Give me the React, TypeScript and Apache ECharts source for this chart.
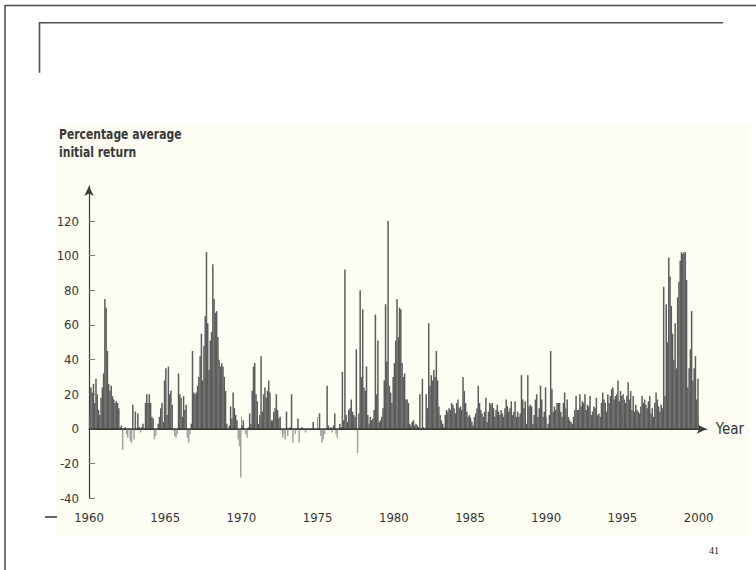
import React, { useEffect, useRef } from "react";
import * as echarts from "echarts";

// Monthly percentage average initial returns, one row per year
const returns1960s = [
  8, 24, 21, 26, 15, 29, 20, 11, 8, 18, 24, 32, // 1960
  75, 70, 45, 26, 22, 25, 19, 17, 15, 16, 15, 12, // 1961
  1, 2, -12, 0, 1, -3, -5, 0, -7, -8, 14, -6, // 1962
  10, 0, 9, 1, -2, 1, 3, 0, 15, 20, 15, 20, // 1963
  15, 7, 6, -6, -4, 0, 3, 7, 12, 15, 4, 28, // 1964
  35, 8, 36, 20, 22, 14, -1, -4, -5, -3, 32, 20, // 1965
  18, 7, 19, 11, 14, -5, -8, -3, 3, 45, 21, 20, // 1966
  21, 25, 30, 42, 55, 28, 48, 65, 102, 61, 34, 51, // 1967
  56, 95, 75, 67, 68, 53, 40, 36, 38, 36, 30, 22, // 1968
  3, 0, 2, 13, 6, 21, 12, 8, 5, -6, -10, -28, // 1969
];
const returns1970s = [
  2, 5, 0, -3, -5, 1, 9, 3, 22, 36, 38, 20, // 1970
  16, 3, 8, 42, 10, 20, 24, 18, 22, 28, 21, 5, // 1971
  5, 10, 12, 20, 11, 6, 7, -1, -5, -3, -6, 10, // 1972
  -4, 0, 1, 20, -8, 0, -3, 0, 6, -8, 0, 1, // 1973
  0, 0, -2, 0, 0, 0, 0, 0, 4, 0, 0, 0, // 1974
  0, 9, -4, -8, -6, -3, 0, 25, 2, 0, 1, -2, // 1975
  2, 9, -3, -5, 0, 3, 1, 33, 5, 92, 8, 4, // 1976
  11, 12, 17, 10, 8, 7, 46, -14, 9, 80, 30, 69, // 1977
  24, 22, 36, 8, 3, 7, 5, 6, 11, 66, 20, 51, // 1978
  4, 5, 7, 12, 28, 72, 39, 120, 25, 21, 15, 30, // 1979
];
const returns1980s = [
  38, 51, 75, 53, 70, 69, 38, 30, 32, 17, 17, 15, // 1980
  3, 2, 4, 5, 2, 3, 2, 1, 20, 0, 29, 1, // 1981
  0, 20, 12, 61, 25, 31, 28, 34, 30, 45, 28, 13, // 1982
  8, 5, 3, 1, 8, 11, 10, 12, 11, 15, 14, 12, // 1983
  9, 15, 17, 12, 13, 11, 30, 22, 15, 10, 7, 8, // 1984
  6, 4, 2, 7, 9, 12, 25, 15, 11, 9, 7, 10, // 1985
  18, 4, 10, 15, 14, 15, 12, 7, 11, 14, 10, 8, // 1986
  11, 9, 7, 12, 17, 13, 10, 12, 16, 8, 10, 16, // 1987
  7, 10, 7, 9, 31, 17, 12, 16, 3, 31, 13, 14, // 1988
  13, 3, 8, 17, 20, 7, 12, 25, 17, 7, 10, 24, // 1989
];
const returns1990s = [
  0, 3, 8, 45, 23, 10, 13, 11, 15, 15, 15, 10, // 1990
  7, 15, 21, 12, 17, 7, 5, 4, 3, 7, 11, 19, // 1991
  11, 11, 20, 13, 16, 15, 20, 11, 14, 13, 19, 8, // 1992
  10, 13, 12, 18, 8, 9, 7, 15, 21, 17, 15, 10, // 1993
  20, 15, 19, 23, 24, 17, 19, 20, 28, 16, 22, 19, // 1994
  20, 17, 15, 19, 27, 17, 22, 11, 19, 10, 14, 11, // 1995
  10, 9, 13, 19, 15, 17, 14, 12, 16, 19, 9, 12, // 1996
  7, 15, 21, 17, 13, 10, 14, 12, 82, 19, 72, 50, // 1997
  99, 88, 71, 55, 40, 61, 35, 76, 85, 97, 102, 101, // 1998
  102, 102, 86, 24, 35, 46, 68, 28, 35, 42, 17, 29, // 1999
];

const startYear = 1960;
const yearTicks = [1960, 1965, 1970, 1975, 1980, 1985, 1990, 1995, 2000];
const returnTicks = [-40, -20, 0, 20, 40, 60, 80, 100, 120];
const titleLines = ["Percentage average", "initial return"];
const xAxisName = "Year";
const pageNumber = "41";

const FONT = "'DejaVu Sans Condensed', 'DejaVu Sans', sans-serif";

export default function App() {
  const ref = useRef<HTMLDivElement>(null);

  useEffect(() => {
    if (!ref.current) return;
    const chart = echarts.init(ref.current, undefined, { renderer: "svg" });

    const monthly = [...returns1960s, ...returns1970s, ...returns1980s, ...returns1990s];
    const data = monthly.map((v, i) => [startYear + (i + 0.5) / 12, v]);

    const option: any = {
      animation: false,
      backgroundColor: "#ffffff",
      grid: { left: 89, right: 49.3, top: 186, bottom: 71.7, containLabel: false },
      xAxis: {
        type: "value",
        min: 1960,
        max: 2000.53,
        name: xAxisName,
        nameLocation: "end",
        nameGap: 9,
        nameTextStyle: { fontFamily: FONT, fontSize: 15, color: "#333333", verticalAlign: "middle" },
        axisLine: {
          show: true,
          symbol: ["none", "arrow"],
          symbolSize: [7, 10],
          lineStyle: { color: "#3c3c3c", width: 1.2 },
        },
        axisTick: {
          show: true,
          inside: true,
          length: 12,
          customValues: yearTicks,
          lineStyle: { color: "#9a9a9a", width: 1 },
        },
        axisLabel: {
          customValues: yearTicks,
          margin: 13,
          fontFamily: FONT,
          fontSize: 13,
          color: "#363636",
          formatter: (v: number) => String(v),
        },
        splitLine: { show: false },
      },
      yAxis: {
        type: "value",
        min: -40,
        max: 140.2,
        axisLine: {
          show: true,
          symbol: ["none", "arrow"],
          symbolSize: [7, 10],
          lineStyle: { color: "#3c3c3c", width: 1.2 },
        },
        axisTick: {
          show: true,
          inside: true,
          length: 6,
          customValues: returnTicks,
          lineStyle: { color: "#7a7a7a", width: 1 },
        },
        axisLabel: {
          customValues: returnTicks,
          margin: 10,
          fontFamily: FONT,
          fontSize: 13,
          color: "#363636",
          formatter: (v: number) => String(v),
        },
        splitLine: { show: false },
      },
      series: [
        {
          type: "bar",
          data,
          barWidth: 1.5,
          itemStyle: {
            color: (p: any) => (p.value[1] < 0 ? "#a4a4a4" : "#5c5c5c"),
          },
          markLine: {
            silent: true,
            symbol: ["none", "none"],
            label: { show: false },
            lineStyle: { color: "#3a3a3a", width: 1.5, type: "solid" },
            data: [[{ coord: [1960, 0] }, { coord: [2000, 0] }]],
          },
        },
      ],
      graphic: [
        {
          type: "rect",
          z: -100,
          shape: { x: 56.7, y: 125, width: 693, height: 411 },
          style: { fill: "#fdfdf3" },
          silent: true,
        },
        {
          type: "rect",
          shape: { x: 5, y: 5.5, width: 800, height: 600 },
          style: { fill: "none", stroke: "#4a4a4a", lineWidth: 1.5 },
          silent: true,
        },
        {
          type: "polyline",
          shape: { points: [[39.5, 72.7], [39.5, 22.7], [723, 22.7]] },
          style: { fill: "none", stroke: "#505050", lineWidth: 1.6 },
          silent: true,
        },
        {
          type: "line",
          shape: { x1: 45, y1: 517, x2: 57, y2: 517 },
          style: { stroke: "#333333", lineWidth: 1.5 },
          silent: true,
        },
        {
          type: "text",
          x: 59,
          y: 134.5,
          scaleY: 1.2,
          style: {
            text: titleLines[0],
            fill: "#383838",
            font: `bold 12px ${FONT}`,
            verticalAlign: "middle",
            align: "left",
          },
        },
        {
          type: "text",
          x: 59,
          y: 152.5,
          scaleY: 1.2,
          style: {
            text: titleLines[1],
            fill: "#383838",
            font: `bold 12px ${FONT}`,
            verticalAlign: "middle",
            align: "left",
          },
        },
        {
          type: "text",
          x: 714,
          y: 550,
          style: {
            text: pageNumber,
            fill: "#222222",
            font: "10px 'Liberation Serif', 'DejaVu Serif', serif",
            verticalAlign: "middle",
            align: "center",
          },
        },
      ],
    };

    chart.setOption(option);
    return () => chart.dispose();
  }, []);

  return (
    <div
      ref={ref}
      style={{ position: "fixed", left: 0, top: 0, width: 756, height: 570 }}
    />
  );
}
